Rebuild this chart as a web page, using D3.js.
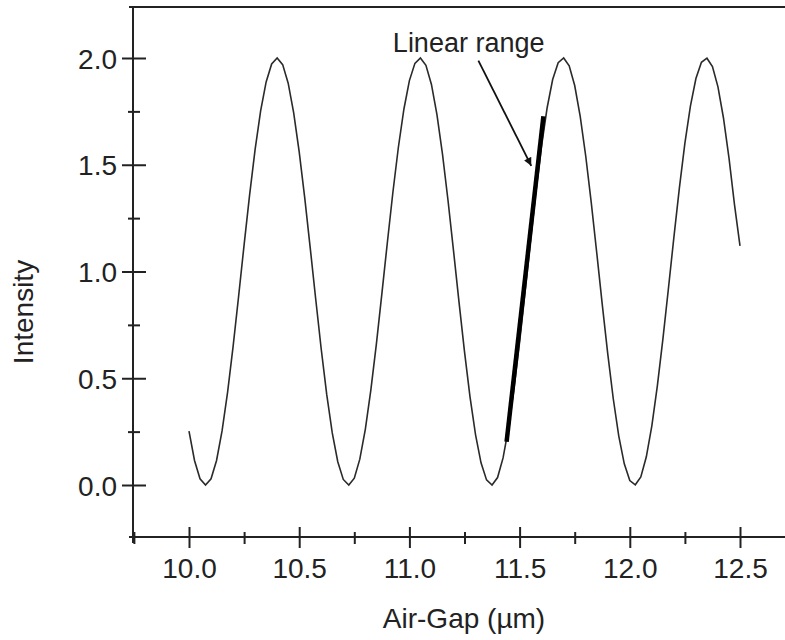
<!DOCTYPE html>
<html>
<head>
<meta charset="utf-8">
<script src="https://cdn.jsdelivr.net/npm/d3@7/dist/d3.min.js"></script>
<style>
  html, body { margin: 0; padding: 0; background: #fff; }
  svg { display: block; }
  text { font-family: "Liberation Sans", Arial, Helvetica, sans-serif; fill: #222; }
</style>
</head>
<body>
<svg id="chart" width="785" height="640"></svg>
<script>
// ---- data ----
const airGap = [
  10.000,10.025,10.050,10.075,10.100,10.125,10.150,10.175,10.200,10.225,
  10.250,10.275,10.300,10.325,10.350,10.375,10.400,10.425,10.450,10.475,
  10.500,10.525,10.550,10.575,10.600,10.625,10.650,10.675,10.700,10.725,
  10.750,10.775,10.800,10.825,10.850,10.875,10.900,10.925,10.950,10.975,
  11.000,11.025,11.050,11.075,11.100,11.125,11.150,11.175,11.200,11.225,
  11.250,11.275,11.300,11.325,11.350,11.375,11.400,11.425,11.450,11.475,
  11.500,11.525,11.550,11.575,11.600,11.625,11.650,11.675,11.700,11.725,
  11.750,11.775,11.800,11.825,11.850,11.875,11.900,11.925,11.950,11.975,
  12.000,12.025,12.050,12.075,12.100,12.125,12.150,12.175,12.200,12.225,
  12.250,12.275,12.300,12.325,12.350,12.375,12.400,12.425,12.450,12.475,
  12.500
];
const intensity = [
  0.252,0.115,0.029,0.000,0.029,0.115,0.253,0.434,0.648,0.883,
  1.125,1.359,1.572,1.752,1.888,1.972,2.000,1.969,1.882,1.743,
  1.560,1.346,1.111,0.870,0.636,0.423,0.244,0.109,0.026,0.000,
  0.032,0.121,0.261,0.444,0.659,0.895,1.136,1.370,1.582,1.760,
  1.894,1.975,2.000,1.966,1.876,1.735,1.551,1.335,1.099,0.858,
  0.625,0.413,0.236,0.104,0.024,0.000,0.035,0.127,0.269,0.454,
  0.670,0.906,1.148,1.381,1.591,1.767,1.899,1.978,2.000,1.963,
  1.871,1.727,1.541,1.324,1.088,0.846,0.614,0.404,0.229,0.099,
  0.021,0.001,0.038,0.132,0.277,0.464,0.682,0.918,1.160,1.392,
  1.601,1.775,1.904,1.980,1.999,1.960,1.865,1.719,1.532,1.313,
  1.120
];
const xMajorTicks = [10.0, 10.5, 11.0, 11.5, 12.0, 12.5];
const xMinorTicks = [9.75, 10.25, 10.75, 11.25, 11.75, 12.25];
const yMajorTicks = [0.0, 0.5, 1.0, 1.5, 2.0];
const yMinorTicks = [0.25, 0.75, 1.25, 1.75];
const linearRangeX = [11.441, 11.608];
const linearRangeY = [0.203, 1.727];
const arrowX = [11.313, 11.553];
const arrowY = [1.988, 1.495];
const annotationText = "Linear range";
const annotationPos = [10.925, 2.03];
const xTitle = "Air-Gap (\u00B5m)";
const yTitle = "Intensity";

// ---- layout ----
const svg = d3.select("#chart");
const x = d3.scaleLinear().domain([10, 12.5]).range([189, 740]);
const y = d3.scaleLinear().domain([0, 2]).range([485, 58]);
const axisX0 = 133, axisY0 = 537, topY = 7, rightX = 785;
const ink = "#222";

// frame lines
svg.append("line").attr("x1", 129).attr("x2", rightX).attr("y1", topY).attr("y2", topY)
  .attr("stroke", ink).attr("stroke-width", 2);
svg.append("line").attr("x1", axisX0).attr("x2", axisX0).attr("y1", topY - 1).attr("y2", 543)
  .attr("stroke", ink).attr("stroke-width", 2);
svg.append("line").attr("x1", 129).attr("x2", rightX).attr("y1", axisY0).attr("y2", axisY0)
  .attr("stroke", ink).attr("stroke-width", 2);

// x axis
const gx = svg.append("g").attr("transform", `translate(0,${axisY0})`)
  .call(d3.axisBottom(x).tickValues(xMajorTicks).tickFormat(d3.format(".1f")));
gx.select(".domain").remove();
gx.selectAll(".tick line").attr("y1", -10).attr("y2", 11).attr("stroke", ink).attr("stroke-width", 2);
gx.selectAll(".tick text").attr("y", 41).attr("dy", 0).style("font-size", "28px").attr("fill", ink);

const gxm = svg.append("g").attr("transform", `translate(0,${axisY0})`)
  .call(d3.axisBottom(x).tickValues(xMinorTicks).tickFormat(""));
gxm.select(".domain").remove();
gxm.selectAll(".tick line").attr("y1", -5).attr("y2", 7).attr("stroke", ink).attr("stroke-width", 2);

// y axis
const gy = svg.append("g").attr("transform", `translate(${axisX0},0)`)
  .call(d3.axisLeft(y).tickValues(yMajorTicks).tickFormat(d3.format(".1f")));
gy.select(".domain").remove();
gy.selectAll(".tick line").attr("x1", -11).attr("x2", 13).attr("stroke", ink).attr("stroke-width", 2);
gy.selectAll(".tick text").attr("x", -16).attr("dy", "0.36em").style("font-size", "28px").attr("fill", ink);

const gym = svg.append("g").attr("transform", `translate(${axisX0},0)`)
  .call(d3.axisLeft(y).tickValues(yMinorTicks).tickFormat(""));
gym.select(".domain").remove();
gym.selectAll(".tick line").attr("x1", -5).attr("x2", 7).attr("stroke", ink).attr("stroke-width", 2);

// axis titles
svg.append("text").attr("x", 464).attr("y", 628).attr("text-anchor", "middle")
  .style("font-size", "28px").text(xTitle);
svg.append("text").attr("transform", "translate(33,312) rotate(-90)").attr("text-anchor", "middle")
  .style("font-size", "28px").text(yTitle);

// curve
const pts = airGap.map((g, i) => [g, intensity[i]]);
svg.append("path").datum(pts)
  .attr("fill", "none").attr("stroke", "#2a2a2a").attr("stroke-width", 1.6)
  .attr("d", d3.line().x(d => x(d[0])).y(d => y(d[1])));

// linear range bold segment
svg.append("path").datum(linearRangeX.map((v, i) => [v, linearRangeY[i]]))
  .attr("fill", "none").attr("stroke", "#000").attr("stroke-width", 4.5)
  .attr("d", d3.line().x(d => x(d[0])).y(d => y(d[1])));

// arrow
svg.append("defs").append("marker").attr("id", "ah")
  .attr("viewBox", "0 0 10 10").attr("refX", 10).attr("refY", 5)
  .attr("markerWidth", 12).attr("markerHeight", 8).attr("markerUnits", "userSpaceOnUse")
  .attr("orient", "auto")
  .append("path").attr("d", "M0,0 L10,5 L0,10 Z").attr("fill", "#111");
svg.append("line")
  .attr("x1", x(arrowX[0])).attr("y1", y(arrowY[0]))
  .attr("x2", x(arrowX[1])).attr("y2", y(arrowY[1]))
  .attr("stroke", "#111").attr("stroke-width", 1.8).attr("marker-end", "url(#ah)");

svg.append("text").attr("x", x(annotationPos[0])).attr("y", y(annotationPos[1]))
  .style("font-size", "27px").text(annotationText);
</script>
</body>
</html>
